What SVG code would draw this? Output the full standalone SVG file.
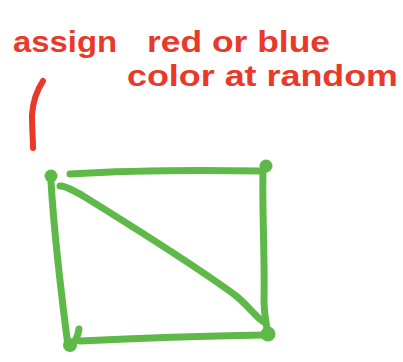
<svg xmlns="http://www.w3.org/2000/svg" width="403" height="362" viewBox="0 0 403 362">
<style>
.note{fill:#e8392a;font-family:"Liberation Sans",Arial,sans-serif;font-size:30px;font-weight:bold}
.ink{fill:none;stroke:#e8392a;stroke-width:6;stroke-linecap:round;stroke-linejoin:round}
.edge{fill:none;stroke:#5fb948;stroke-width:7;stroke-linecap:round;stroke-linejoin:round}
.dot{fill:#5fb948}
</style>
<rect width="403" height="362" fill="#ffffff"/>
<g id="note">
<text class="note" x="13" y="52" textLength="104" lengthAdjust="spacingAndGlyphs">assign</text>
<text class="note" x="147" y="52" textLength="183" lengthAdjust="spacingAndGlyphs">red or blue</text>
<text class="note" x="127" y="86" textLength="271" lengthAdjust="spacingAndGlyphs">color at random</text>
<path class="ink" d="M43,81 C37,90 33,100 32,115 C32,128 33,140 33,148"/>
</g>
<g id="connectors">
<path class="edge" d="M70,174 C120,171 200,170 260,171"/>
<path class="edge" d="M263,172 C262,210 265,260 264,300 C264,315 267,328 268,335"/>
<path class="edge" d="M80,341 C140,338 200,336 264,335"/>
<path class="edge" d="M51,182 C54,230 62,300 68,346"/>
<path class="edge" d="M60,186 C66,186 72,190 80,194 C130,225 190,262 235,295 C250,307 256,318 264,322"/>
</g>
<g id="node-top-left"><circle class="dot" cx="51" cy="176" r="6.5"/></g>
<g id="node-top-right"><circle class="dot" cx="266" cy="166" r="6.5"/></g>
<g id="node-bottom-left"><circle class="dot" cx="70" cy="345" r="7"/><path class="edge" d="M79,329 C78,336 75,342 71,346"/></g>
<g id="node-bottom-right"><circle class="dot" cx="268" cy="334" r="7.5"/></g>
</svg>
